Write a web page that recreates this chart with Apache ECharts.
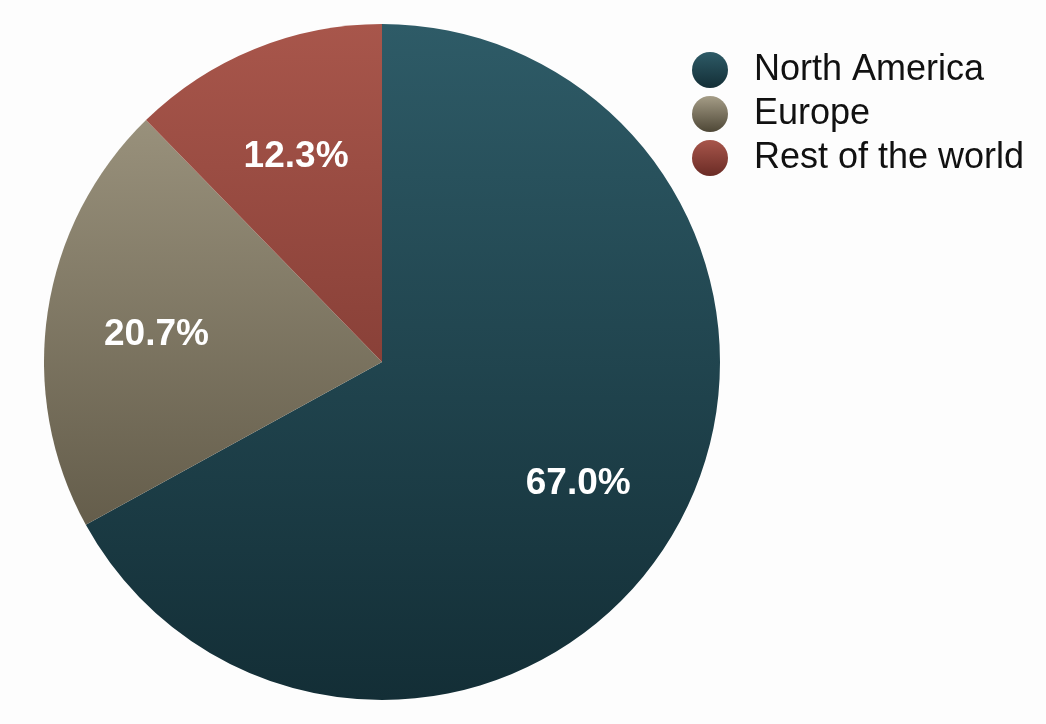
<!DOCTYPE html>
<html>
<head>
<meta charset="utf-8">
<script src="https://cdn.jsdelivr.net/npm/echarts@6/dist/echarts.min.js"></script>
<style>
html,body{margin:0;padding:0;background:#fdfdfd;}
#chart{width:1046px;height:724px;}
</style>
</head>
<body>
<div id="chart"></div>
<script>
const categories = ['North America', 'Europe', 'Rest of the world'];
const shares = [67.0, 20.7, 12.3];
const topColors = ['#2e5b67', '#a59d87', '#a8564b'];
const bottomColors = ['#132e36', '#4e4736', '#6a2b25'];

const chart = echarts.init(document.getElementById('chart'));
const FONT = '"Liberation Sans", Arial, Helvetica, sans-serif';
const CX = 382, CY = 362, R = 338;

function globalGrad(i) {
  return new echarts.graphic.LinearGradient(0, CY - R, 0, CY + R, [
    { offset: 0, color: topColors[i] },
    { offset: 1, color: bottomColors[i] }
  ], true);
}
function localGrad(i) {
  return new echarts.graphic.LinearGradient(0, 0, 0, 1, [
    { offset: 0, color: topColors[i] },
    { offset: 1, color: bottomColors[i] }
  ]);
}

const option = {
  backgroundColor: '#fdfdfd',
  animation: false,
  legend: {
    orient: 'vertical',
    left: 687,
    top: 47,
    itemWidth: 36,
    itemHeight: 36,
    itemGap: 8,
    icon: 'circle',
    textStyle: { fontFamily: FONT, fontSize: 36, color: '#111', padding: [0, 0, 0, 21] },
    data: categories.map((c, i) => ({ name: c, itemStyle: { color: localGrad(i) } }))
  },
  series: [
    {
      type: 'pie',
      center: [CX, CY],
      radius: [0, R],
      startAngle: 90,
      clockwise: true,
      silent: true,
      label: { show: false },
      labelLine: { show: false },
      itemStyle: { borderWidth: 0 },
      data: categories.map((c, i) => ({ name: c, value: shares[i], itemStyle: { color: globalGrad(i) } }))
    },
    {
      type: 'pie',
      center: [CX, CY],
      radius: [112, R],
      startAngle: 90,
      clockwise: true,
      silent: true,
      itemStyle: { color: 'transparent', borderWidth: 0 },
      label: {
        show: true,
        position: 'inside',
        formatter: p => p.value.toFixed(1) + '%',
        color: '#fff',
        fontFamily: FONT,
        fontSize: 37,
        fontWeight: 'bold',
        offset: [0, 6]
      },
      labelLine: { show: false },
      data: categories.map((c, i) => ({ name: c, value: shares[i] }))
    }
  ]
};
chart.setOption(option);
</script>
</body>
</html>
